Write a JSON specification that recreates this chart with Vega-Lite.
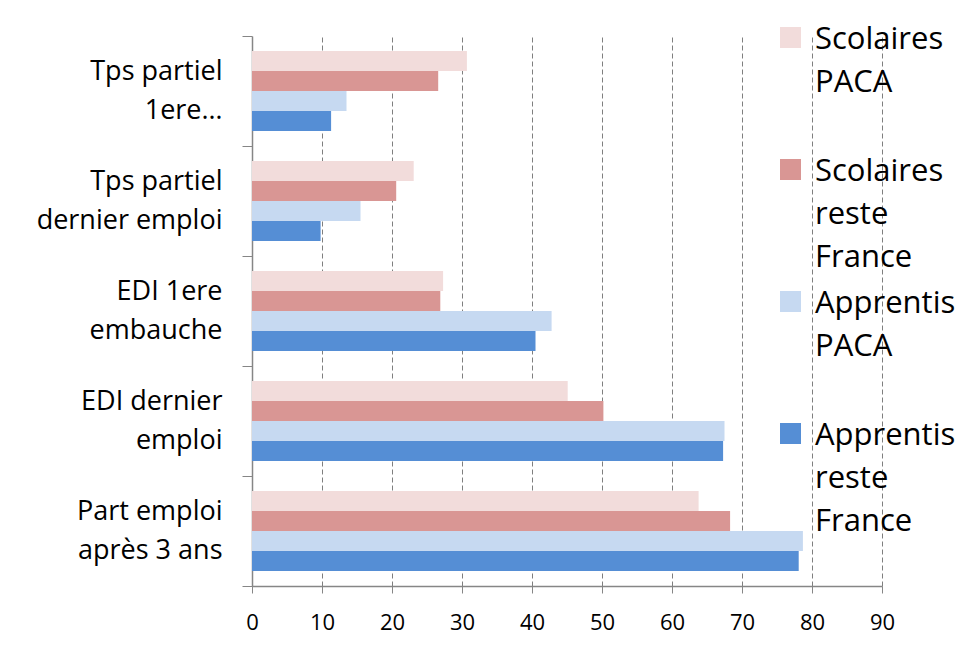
{
  "$schema": "https://vega.github.io/schema/vega-lite/v6.json",
  "width": 630,
  "height": 550,
  "autosize": {"type": "none"},
  "padding": {"left": 252, "top": 36, "right": 88, "bottom": 62},
  "background": "white",
  "config": {
    "font": "Open Sans",
    "view": {"stroke": null},
    "style": {"guide-label": {"lineHeight": 43}}
  },
  "data": {
    "values": [
      {"cat": "Tps partiel 1ere…", "serie": "Scolaires PACA", "val": 30.7},
      {"cat": "Tps partiel 1ere…", "serie": "Scolaires reste France", "val": 26.6},
      {"cat": "Tps partiel 1ere…", "serie": "Apprentis PACA", "val": 13.5},
      {"cat": "Tps partiel 1ere…", "serie": "Apprentis reste France", "val": 11.3},
      {"cat": "Tps partiel dernier emploi", "serie": "Scolaires PACA", "val": 23.1},
      {"cat": "Tps partiel dernier emploi", "serie": "Scolaires reste France", "val": 20.6},
      {"cat": "Tps partiel dernier emploi", "serie": "Apprentis PACA", "val": 15.5},
      {"cat": "Tps partiel dernier emploi", "serie": "Apprentis reste France", "val": 9.8},
      {"cat": "EDI 1ere embauche", "serie": "Scolaires PACA", "val": 27.3},
      {"cat": "EDI 1ere embauche", "serie": "Scolaires reste France", "val": 26.9},
      {"cat": "EDI 1ere embauche", "serie": "Apprentis PACA", "val": 42.8},
      {"cat": "EDI 1ere embauche", "serie": "Apprentis reste France", "val": 40.5},
      {"cat": "EDI dernier emploi", "serie": "Scolaires PACA", "val": 45.1},
      {"cat": "EDI dernier emploi", "serie": "Scolaires reste France", "val": 50.2},
      {"cat": "EDI dernier emploi", "serie": "Apprentis PACA", "val": 67.5},
      {"cat": "EDI dernier emploi", "serie": "Apprentis reste France", "val": 67.3},
      {"cat": "Part emploi après 3 ans", "serie": "Scolaires PACA", "val": 63.8},
      {"cat": "Part emploi après 3 ans", "serie": "Scolaires reste France", "val": 68.3},
      {"cat": "Part emploi après 3 ans", "serie": "Apprentis PACA", "val": 78.7},
      {"cat": "Part emploi après 3 ans", "serie": "Apprentis reste France", "val": 78.1}
    ]
  },
  "mark": {"type": "bar"},
  "encoding": {
    "y": {
      "field": "cat",
      "type": "nominal",
      "sort": ["Tps partiel 1ere…", "Tps partiel dernier emploi", "EDI 1ere embauche", "EDI dernier emploi", "Part emploi après 3 ans"],
      "scale": {"paddingInner": 0, "paddingOuter": 0},
      "axis": {
        "title": null,
        "grid": false,
        "tickBand": "extent",
        "tickSize": 10,
        "tickColor": "#868686",
        "tickWidth": 1,
        "domainColor": "#868686",
        "domainWidth": 1.5,
        "labelFont": "Open Sans",
        "labelFontSize": 27,
        "labelColor": "#000000",
        "labelPadding": 20,
        "labelLineHeight": 39,
        "labelOffset": -20,
        "labelLimit": 400,
        "labelExpr": "split(replace(datum.label, regexp('^([^ ]+ [^ ]+) '), '$1|'), '|')"
      }
    },
    "yOffset": {
      "field": "serie",
      "type": "nominal",
      "sort": ["Scolaires PACA", "Scolaires reste France", "Apprentis PACA", "Apprentis reste France"],
      "scale": {"paddingInner": 0, "paddingOuter": 0.75}
    },
    "x": {
      "field": "val",
      "type": "quantitative",
      "scale": {"domain": [0, 90], "nice": false},
      "axis": {
        "title": null,
        "values": [0, 10, 20, 30, 40, 50, 60, 70, 80, 90],
        "grid": true,
        "gridColor": "#7f7f7f",
        "gridDash": [5, 3],
        "gridWidth": 1,
        "domainColor": "#868686",
        "domainWidth": 1.5,
        "tickColor": "#868686",
        "tickSize": 7,
        "labelFont": "Open Sans",
        "labelFontSize": 22,
        "labelColor": "#000000",
        "labelPadding": 19,
        "labelFlush": false
      }
    },
    "color": {
      "field": "serie",
      "type": "nominal",
      "sort": ["Scolaires PACA", "Scolaires reste France", "Apprentis PACA", "Apprentis reste France"],
      "scale": {
        "domain": ["Scolaires PACA", "Scolaires reste France", "Apprentis PACA", "Apprentis reste France"],
        "range": ["#F2DCDB", "#D99694", "#C6D9F1", "#558ED5"]
      },
      "legend": {
        "title": null,
        "orient": "none",
        "legendX": 523,
        "legendY": -27,
        "padding": 0,
        "columns": 1,
        "gridAlign": "all",
        "symbolType": "M-1,0.238H1V2.238H-1Z",
        "symbolSize": 441,
        "symbolStrokeWidth": 0,
        "symbolOpacity": 1,
        "labelFont": "Open Sans",
        "labelFontSize": 31,
        "labelColor": "#000000",
        "labelOffset": 9,
        "labelLimit": 400,
        "labelBaseline": "top",
        "rowPadding": 0,
        "labelExpr": "split(datum.label, ' ')"
      }
    }
  }
}
